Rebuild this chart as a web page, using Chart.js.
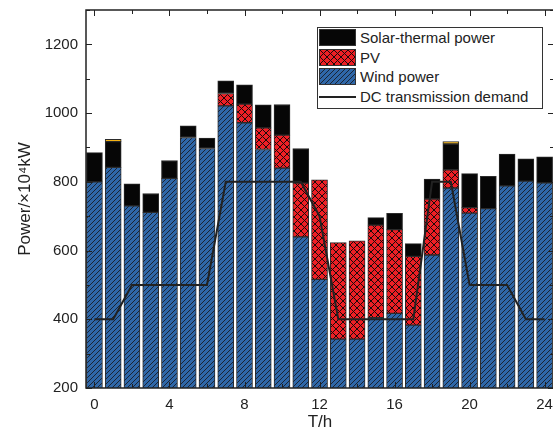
<!DOCTYPE html>
<html>
<head>
<meta charset="utf-8">
<title>Power balance</title>
<script src="https://cdn.jsdelivr.net/npm/chart.js@4.4.1/dist/chart.umd.min.js"></script>
<style>
html, body { margin: 0; padding: 0; background: #fff; overflow: hidden; }
#wrap { position: relative; width: 553px; height: 440px; overflow: hidden; }
#legend {
  position: absolute; left: 317px; top: 27px; width: 226px; height: 82px;
  box-sizing: border-box; border: 1px solid #333; background: #fff;
  font: 15px "Liberation Sans", Arial, sans-serif; color: #222;
}
#legend .sw { position: absolute; left: 1px; width: 37px; height: 17px; box-sizing: border-box; border: 1px solid #333; }
#legend .ln { position: absolute; left: 1px; width: 37px; height: 0; border-top: 2px solid #222; }
#legend .tx { position: absolute; left: 42px; line-height: 18px; white-space: nowrap; }
</style>
</head>
<body>
<div id="wrap">
  <canvas id="powerChart" width="556" height="440"></canvas>
  <div id="legend"></div>
</div>
<script>
// hours of the day
var hours = [0, 1, 2, 3, 4, 5, 6, 7, 8, 9, 10, 11, 12, 13, 14, 15, 16, 17, 18, 19, 20, 21, 22, 23, 24];
// ×10^4 kW
var wind  = [800, 842, 730, 711, 810, 929, 897, 1021, 972, 894, 840, 640, 516, 342, 342, 405, 417, 383, 587, 782, 709, 722, 788, 802, 797];
var pv    = [0, 0, 0, 0, 0, 0, 0, 36, 54, 63, 96, 156, 290, 281, 286, 269, 244, 200, 163, 53, 16, 0, 0, 0, 0];
var solar = [85, 75, 64, 55, 52, 34, 30, 37, 56, 67, 89, 101, 0, 0, 0, 22, 47, 37, 58, 75, 99, 94, 93, 65, 76];
var other = [0, 7, 0, 0, 0, 0, 0, 0, 0, 0, 0, 0, 0, 0, 0, 0, 0, 0, 0, 7, 0, 0, 0, 0, 0];
var demand = [400, 400, 500, 500, 500, 500, 500, 800, 800, 800, 800, 800, 700, 400, 400, 400, 400, 400, 800, 800, 500, 500, 500, 400, 400];

var xTicks = [0, 4, 8, 12, 16, 20, 24];
var yTicks = [200, 400, 600, 800, 1000, 1200];

function hatchTile(bg, line, size, cross) {
  var c = document.createElement('canvas');
  c.width = size; c.height = size;
  var g = c.getContext('2d');
  g.fillStyle = bg;
  g.fillRect(0, 0, size, size);
  g.strokeStyle = line;
  g.lineWidth = 1;
  g.beginPath();
  g.moveTo(-1, size + 1); g.lineTo(size + 1, -1);
  g.moveTo(-1, 1); g.lineTo(1, -1);
  g.moveTo(size - 1, size + 1); g.lineTo(size + 1, size - 1);
  if (cross) {
    g.moveTo(-1, -1); g.lineTo(size + 1, size + 1);
    g.moveTo(size - 1, -1); g.lineTo(size + 1, 1);
    g.moveTo(-1, size - 1); g.lineTo(1, size + 1);
  }
  g.stroke();
  return c;
}

var canvas = document.getElementById('powerChart');
var ctx = canvas.getContext('2d');
var windTile = hatchTile('#2f67a8', '#1b2433', 5, false);
var pvTile = hatchTile('#ee1f25', '#1a0a0a', 7, true);
var windFill = ctx.createPattern(windTile, 'repeat');
var pvFill = ctx.createPattern(pvTile, 'repeat');

function pts(arr) {
  return hours.map(function (h, i) { return { x: h, y: arr[i] || null }; });
}

function barSet(label, arr, fill) {
  return {
    label: label,
    data: pts(arr),
    backgroundColor: fill,
    borderColor: '#2b2b2b',
    borderWidth: 1,
    borderSkipped: false,
    barThickness: 16,
    stack: 'gen',
    order: 1
  };
}

var tickFont = { family: '"Liberation Sans", Arial, sans-serif', size: 15 };
var titleFont = { family: '"Liberation Sans", Arial, sans-serif', size: 17 };

// box round the plot, with inward ticks like the original
var frame = {
  id: 'frame',
  afterDatasetsDraw: function (chart) {
    var c = chart.ctx, a = chart.chartArea, x = chart.scales.x, y = chart.scales.y;
    c.save();
    c.strokeStyle = '#222';
    c.lineWidth = 1.5;
    c.strokeRect(a.left, a.top, a.right - a.left, a.bottom - a.top);
    c.lineWidth = 1;
    c.beginPath();
    for (var v = 200; v <= 1300; v += 100) {
      var py = Math.round(y.getPixelForValue(v)) + 0.5;
      var len = v % 200 === 0 ? 6 : 4;
      c.moveTo(a.left, py); c.lineTo(a.left + len, py);
      c.moveTo(a.right, py); c.lineTo(a.right - len, py);
    }
    for (var h = 0; h <= 24; h += 2) {
      var px = Math.round(x.getPixelForValue(h)) + 0.5;
      var l2 = h % 4 === 0 ? 6 : 4;
      c.moveTo(px, a.bottom); c.lineTo(px, a.bottom - l2);
      c.moveTo(px, a.top); c.lineTo(px, a.top + l2);
    }
    c.stroke();
    c.restore();
  }
};

var myChart = new Chart(canvas, {
  type: 'bar',
  data: {
    datasets: [
      {
        type: 'line',
        label: 'DC transmission demand',
        data: pts(demand),
        borderColor: '#222',
        borderWidth: 2,
        pointRadius: 0,
        tension: 0,
        fill: false,
        stack: 'demand',
        order: 0
      },
      barSet('Wind power', wind, windFill),
      barSet('PV', pv, pvFill),
      barSet('Solar-thermal power', solar, '#060606'),
      barSet('Other', other, '#f5b315')
    ]
  },
  options: {
    responsive: false,
    animation: false,
    layout: { padding: { top: 10, right: 2, left: 0, bottom: 0 } },
    plugins: {
      legend: { display: false },
      tooltip: { enabled: false }
    },
    scales: {
      x: {
        type: 'linear',
        stacked: true,
        offset: false,
        min: -0.45,
        max: 24.5,
        grid: { display: false, drawTicks: false, offset: false },
        border: { display: false },
        ticks: { font: tickFont, color: '#222', padding: 8, maxRotation: 0 },
        afterBuildTicks: function (s) { s.ticks = xTicks.map(function (v) { return { value: v }; }); },
        afterFit: function (s) { s.height = 52; s.paddingLeft = 0; s.paddingRight = 0; },
        title: { display: true, text: 'T/h', font: titleFont, color: '#222', padding: { top: 0, bottom: 7 } }
      },
      y: {
        stacked: true,
        min: 200,
        max: 1300,
        grid: { display: false, drawTicks: false },
        border: { display: false },
        ticks: {
          font: tickFont, color: '#222', padding: 8,
          callback: function (v) { return String(v); }
        },
        afterBuildTicks: function (s) { s.ticks = yTicks.map(function (v) { return { value: v }; }); },
        afterFit: function (s) { s.width = 86; s.paddingTop = 0; s.paddingBottom = 0; },
        title: { display: true, text: 'Power/×10⁴kW', font: titleFont, color: '#222', padding: { top: 15, bottom: 0 } }
      }
    }
  },
  plugins: [frame]
});

// legend box, same order as the original
var legendItems = [
  { label: 'Solar-thermal power', swatch: 'background:#060606' },
  { label: 'PV', swatch: 'background:url(' + pvTile.toDataURL() + ')' },
  { label: 'Wind power', swatch: 'background:url(' + windTile.toDataURL() + ')' },
  { label: 'DC transmission demand', line: true }
];
var legend = document.getElementById('legend');
legendItems.forEach(function (it, i) {
  var top = 1 + i * 19.5;
  var mark = it.line
    ? '<div class="ln" style="top:' + (top + 8) + 'px"></div>'
    : '<div class="sw" style="top:' + top + 'px;' + it.swatch + '"></div>';
  legend.insertAdjacentHTML('beforeend', mark +
    '<div class="tx" style="top:' + top + 'px">' + it.label + '</div>');
});
</script>
</body>
</html>
